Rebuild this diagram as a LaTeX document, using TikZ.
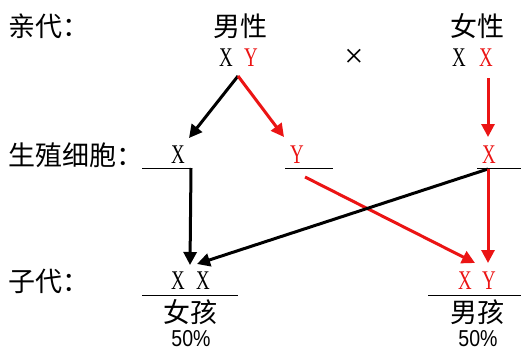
\documentclass[tikz,border=0pt]{standalone}
\usepackage{fontspec}
\setmainfont{Liberation Serif}
\newfontfamily\cjk{Noto Sans CJK SC}
\newfontfamily\genefont[FakeStretch=0.7]{Liberation Serif}
\newfontfamily\pctfont[FakeStretch=0.85]{Liberation Sans}
\usetikzlibrary{arrows.meta}
\definecolor{gred}{RGB}{235,20,20}
\begin{document}
\begin{tikzpicture}[x=1pt,y=-1pt,
  lab/.style={font=\cjk\fontsize{27}{27}\selectfont, inner sep=0},
  gene/.style={font=\genefont\fontsize{27}{27}\selectfont, inner sep=0},
  pct/.style={font=\pctfont\fontsize{23}{23}\selectfont, inner sep=0},
  bar/.style={line width=1pt},
  arr/.style={line width=3pt, -{Triangle[length=13pt,width=13pt]}}]
\useasboundingbox (0,0) rectangle (521,353);
% row labels
\node[lab, anchor=west] (l1) at (8,26) {亲代：};
\node[lab, anchor=west] (l2) at (8,155) {生殖细胞：};
\node[lab, anchor=west] (l3) at (8,281) {子代：};
% parents
\node[lab] (male) at (240,26) {男性};
\node[lab] (female) at (477,26) {女性};
\node[gene] (mX) at (226,58) {X};
\node[gene, text=gred] (mY) at (251,58) {Y};
\node[font=\fontsize{34}{34}\selectfont, inner sep=0] (cross) at (354,58) {×};
\node[gene] (fX1) at (459,58) {X};
\node[gene, text=gred] (fX2) at (486,58) {X};
\coordinate (mapex) at (238,76);
\coordinate (ftop) at (488,78);
% gametes
\node[gene] (gX) at (178,155) {X};
\node[gene, text=gred] (gY) at (297,155) {Y};
\node[gene, text=gred] (gXf) at (489,155) {X};
\draw[bar] (142,168) -- (191,168);
\draw[bar] (285,168) -- (333,168);
\draw[bar] (477,168) -- (521,168);
\coordinate (gXbot) at (191,168);
\coordinate (gYbot) at (305,177);
\coordinate (gXfbot) at (488,169);
% offspring
\node[gene] (oX1) at (178,281) {X};
\node[gene] (oX2) at (203,281) {X};
\node[gene, text=gred] (oX3) at (465,281) {X};
\node[gene, text=gred] (oY) at (489,281) {Y};
\draw[bar] (142,295) -- (238,295);
\draw[bar] (428,295) -- (521,295);
\node[lab] (girl) at (190,312) {女孩};
\node[lab] (boy) at (477,312) {男孩};
\node[pct] (p1) at (191,339) {50\%};
\node[pct] (p2) at (478,339) {50\%};
\coordinate (tipG) at (189,138);
\coordinate (tipY) at (284,137);
\coordinate (tipFX) at (488,137);
\coordinate (tipXX1) at (190,265);
\coordinate (tipXX2) at (197,264);
\coordinate (tipXY1) at (475,263);
\coordinate (tipXY2) at (488,263);
% arrows
\draw[arr, black] (mapex) -- (tipG);
\draw[arr, gred] (mapex) -- (tipY);
\draw[arr, gred] (ftop) -- (tipFX);
\draw[arr, gred] (gYbot) -- (tipXY1);
\draw[arr, black] (gXfbot) -- (tipXX2);
\draw[arr, black] (gXbot) -- (tipXX1);
\draw[arr, gred] (gXfbot) -- (tipXY2);
\end{tikzpicture}
\end{document}
